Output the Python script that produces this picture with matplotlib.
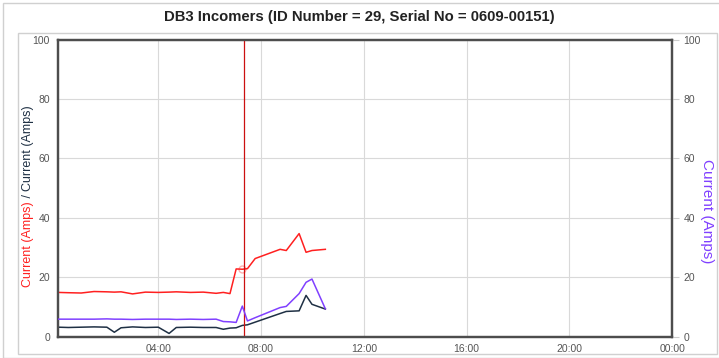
import matplotlib
matplotlib.use("Agg")
import matplotlib.pyplot as plt
from matplotlib.patches import Rectangle

plt.rcParams['font.family'] = ['Liberation Sans', 'DejaVu Sans']

# sample times in hours since midnight
hours = [0.11, 0.5, 1.0, 1.5, 2.0, 2.29, 2.55, 3.0, 3.5, 4.0, 4.42, 4.7, 5.25,
         5.75, 6.25, 6.53, 6.79, 7.03, 7.27, 7.47, 7.77, 8.74, 8.98, 9.48,
         9.75, 9.98, 10.5]

red_amps = [14.9, 14.8, 14.7, 15.2, 15.1, 15.0, 15.1, 14.4, 15.0, 14.9, 15.0,
            15.1, 14.9, 15.0, 14.6, 14.9, 14.5, 22.8, 22.7, 22.9, 26.3, 29.4,
            29.0, 34.7, 28.4, 29.0, 29.4]
navy_amps = [3.2, 3.1, 3.2, 3.3, 3.2, 1.5, 3.0, 3.3, 3.1, 3.2, 1.1, 3.1, 3.2,
             3.1, 3.1, 2.5, 2.9, 3.0, 3.8, 4.0, 4.9, 7.8, 8.5, 8.7, 13.9,
             10.9, 9.3]
purple_amps = [5.9, 5.9, 5.9, 5.9, 6.0, 5.9, 5.9, 5.8, 5.9, 5.9, 5.9, 5.8,
               5.9, 5.8, 5.9, 5.1, 5.0, 4.8, 10.3, 5.3, 6.4, 9.8, 10.2, 14.5,
               18.3, 19.4, 9.4]

cursor_hour = 7.35
hover_idx = 18

x_ticks = [4, 8, 12, 16, 20, 24]
x_labels = ["04:00", "08:00", "12:00", "16:00", "20:00", "00:00"]
y_ticks = [0, 20, 40, 60, 80, 100]

RED = '#ff2020'
NAVY = '#1f3044'
PURPLE = '#8040ff'
SPINE = '#4d4d4d'
GRID = '#d9d9d9'
TICK = '#555555'

W, H = 719, 358
fig = plt.figure(figsize=(W / 100, H / 100), dpi=100)

# outer frames
fig.patches.append(Rectangle((3 / W, 0), 1, 1 - 3 / H, transform=fig.transFigure,
                             fill=False, edgecolor='#d0d0d0', lw=1))
fig.patches.append(Rectangle((18 / W, 4 / H), 699 / W, 321 / H,
                             transform=fig.transFigure, fill=False,
                             edgecolor='#d0d0d0', lw=1))

ax = fig.add_axes([58.3 / W, 1 - 336.7 / H, 614 / W, 297.2 / H])
ax2 = ax.twinx()

ax.plot(hours, red_amps, color=RED, lw=1.1, zorder=3)
ax.plot(hours, navy_amps, color=NAVY, lw=1.1, zorder=3)
ax2.plot(hours, purple_amps, color=PURPLE, lw=1.1, zorder=3)
ax.plot(hours[hover_idx], red_amps[hover_idx], 'o', ms=5, mfc='none',
        mec=RED, alpha=0.35, zorder=3)
ax.axvline(cursor_hour, color='#cc1010', lw=0.9, zorder=4)

for a in (ax, ax2):
    a.set_xlim(hours[0], 24)
    a.set_ylim(0, 100)
    a.set_yticks(y_ticks)
    for s in a.spines.values():
        s.set_color(SPINE)
        s.set_linewidth(1.6)

ax.set_xticks(x_ticks)
ax.set_xticklabels(x_labels)
ax.grid(True, color=GRID, lw=0.8)
ax.set_axisbelow(True)
ax.tick_params(axis='x', length=0, pad=5, labelsize=7.5, labelcolor=TICK)
ax.tick_params(axis='y', length=0, pad=6, labelsize=7.5, labelcolor=TICK)
ax2.tick_params(axis='y', length=5, width=0.8, color='#cccccc', pad=3,
                labelsize=7.5, labelcolor=TICK)

fig.text(0.5, 1 - 17 / H, "DB3 Incomers (ID Number = 29, Serial No = 0609-00151)",
         ha='center', va='center', fontsize=10.7, fontweight='bold', color='#222222')

# left multi-colour axis title
fig.canvas.draw()
r = fig.canvas.get_renderer()
parts = [("Current (Amps)", RED), (" / ", NAVY), ("Current (Amps)", NAVY)]
texts = [fig.text(28 / W, 0, p, rotation=90, ha='center', va='bottom',
                  fontsize=9, color=c) for p, c in parts]
heights = [t.get_window_extent(r).height for t in texts]
total = sum(heights)
y = (H - 196) - total / 2
for t, h in zip(texts, heights):
    t.set_y(y / H)
    y += h

fig.text(707 / W, 1 - 211 / H, "Current (Amps)", rotation=270, ha='center',
         va='center', fontsize=11, color=PURPLE)

fig.savefig("out.png", dpi=100)
